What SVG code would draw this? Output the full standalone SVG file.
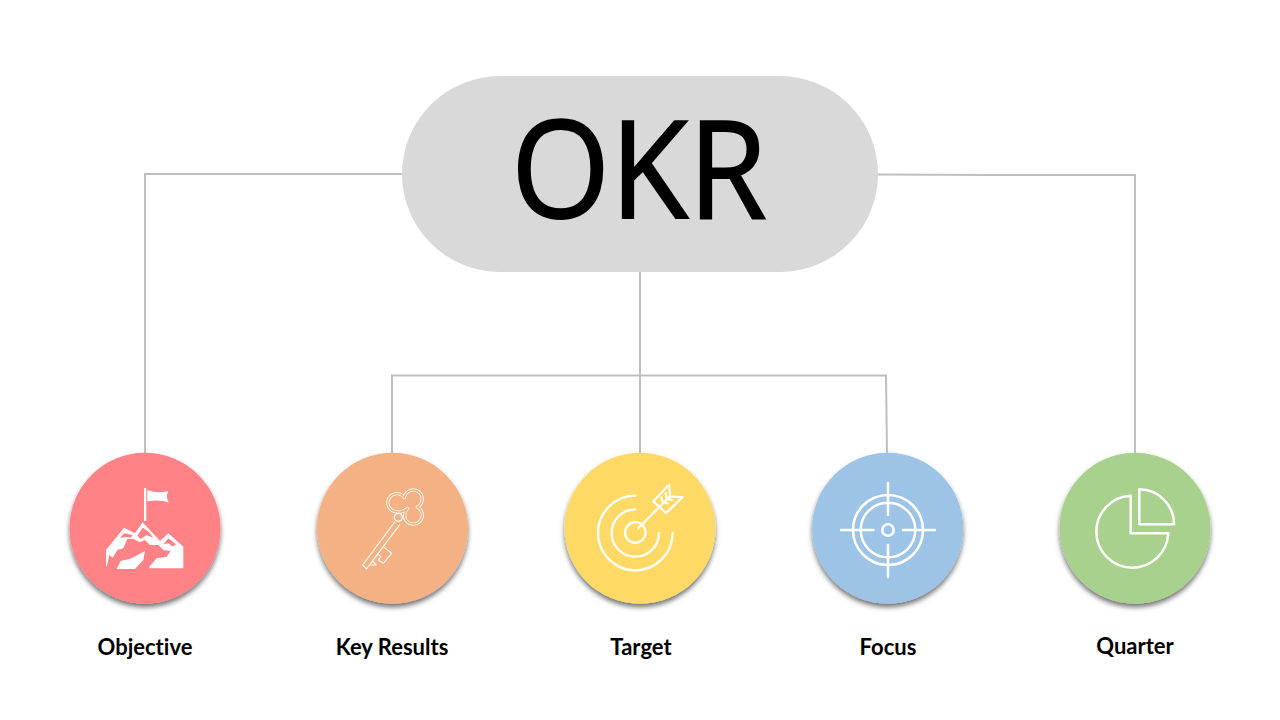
<svg xmlns="http://www.w3.org/2000/svg" width="1280" height="720" viewBox="0 0 1280 720">
<style>
.conn{fill:none;stroke:#BFBFBF;stroke-width:2}
.lbl{font-family:"Lato","Open Sans",sans-serif;font-weight:700;font-size:22px;fill:#000;text-anchor:middle;font-variant-ligatures:none}
.ic{fill:none;stroke:#fff;stroke-linecap:round;stroke-linejoin:round}
.disc{filter:url(#sh)}
</style>
<defs>
<filter id="sh" x="-20%" y="-20%" width="140%" height="140%"><feDropShadow dx="0" dy="3.500" stdDeviation="2.500" flood-color="#000" flood-opacity="0.55"/></filter>
</defs>
<rect width="1280" height="720" fill="#fff"/>
<g id="connectors">
<path class="conn" d="M402 174H145V453"/>
<path class="conn" d="M878 174.500L990 175H1135V453"/>
<path class="conn" d="M640 272V453"/>
<path class="conn" d="M392 453V375.500H886L887 453"/>
</g>
<g id="okr">
<rect x="402" y="76" width="476" height="196" rx="98" fill="#D9D9D9"/>
<text x="511" y="217.500" font-family="'Open Sans',sans-serif" font-size="135" fill="#000" stroke="#000" stroke-width="1.800" textLength="256" lengthAdjust="spacingAndGlyphs">OKR</text>
</g>
<g id="objective">
<circle class="disc" cx="145" cy="528.300" r="75.500" fill="#FF8286"/>
<rect x="144" y="488" width="2.300" height="33" fill="#fff"/>
<path d="M147.300 490Q158 494 168.500 491Q165 497 169 502.500Q158 499 147.300 501.500Z" fill="#fff"/>
<g transform="translate(100 515) scale(.3333)">
<path d="M18 150V105L72 38L105 55L128 22L180 78L205 55L250 95V160H50L20 155Z" fill="#fff"/>
<path d="M18 165L28 120L38 128L52 105L70 100L82 72L102 72L118 82L135 75L150 90L175 90L190 105L212 108L200 125L170 130L148 155V165Z" fill="#FF8286"/>
<path d="M50 162L62 138L95 130L135 108L130 135L105 162Z" fill="#fff"/>
<path d="M72 55L60 68L78 66L92 68L98 60Z M128 38L112 62L122 72L140 60L160 68L146 50Z M205 70L190 88L205 85L218 95L228 88Z" fill="#FF8286"/>
</g>
<text class="lbl" x="145" y="655">Objective</text>
</g>
<g id="key-results">
<circle class="disc" cx="392.500" cy="528.300" r="75.500" fill="#F4B183"/>
<g transform="translate(355 485) scale(.3333)" fill="none" stroke-linejoin="round">
<path d="M125 80A27 27 0 1 1 148 38A27 27 0 1 1 187 66A27 27 0 1 1 150 100Q146 85 158 70Q140 85 125 80Z" stroke="#fff" stroke-width="10" stroke-opacity=".9"/>
<path d="M125 80A27 27 0 1 1 148 38A27 27 0 1 1 187 66A27 27 0 1 1 150 100Q146 85 158 70Q140 85 125 80Z" stroke="#F4B183" stroke-width="4.500"/>
<circle cx="130" cy="97" r="12" fill="#F4B183" stroke="#fff" stroke-width="4"/>
<path d="M120 110L23 240L35 252L62 215L85 185L110 205L85 235L70 225L78 215L68 208L52 228L64 240L47 240M135 118L62 215" stroke="#fff" stroke-width="3.600" stroke-opacity=".9"/>
</g>
<text class="lbl" x="392" y="655">Key Results</text>
</g>
<g id="target">
<circle class="disc" cx="640" cy="528.300" r="75.500" fill="#FFD966"/>
<g class="ic" stroke-width="2.300">
<path d="M635.300 495.700A37.300 37.300 0 1 0 672.600 533"/>
<path d="M635.300 509.300A23.700 23.700 0 1 0 659 533"/>
<circle cx="635.300" cy="532.500" r="10.300"/>
</g>
<g class="ic" stroke-width="6.500" transform="translate(640 478) scale(.3333)">
<path d="M-5 150L90 55"/>
<path d="M40 70L87 20L90 55L128 58L78 105Z"/>
<path d="M68 72L64 58M68 72L82 76M80 62L77 46M80 62L96 66"/>
</g>
<text class="lbl" x="641" y="655">Target</text>
</g>
<g id="focus">
<circle class="disc" cx="887.700" cy="528.300" r="75.500" fill="#9DC3E6"/>
<g class="ic" stroke-width="2.500">
<circle cx="888" cy="530" r="35"/>
<circle cx="888" cy="530" r="27.300"/>
<circle cx="888" cy="530" r="5.700"/>
<path d="M888 483V515M888 545V577M841 530H873.500M903 530H935"/>
</g>
<text class="lbl" x="888" y="655">Focus</text>
</g>
<g id="quarter">
<circle class="disc" cx="1135" cy="528.300" r="75.500" fill="#A9D18E"/>
<g class="ic" stroke-width="2.500">
<path d="M1130.700 495.700A36 36 0 1 0 1168.300 533.300H1130.700Z"/>
<path d="M1139.300 489.300A35 35 0 0 1 1174 524.300H1139.300Z"/>
</g>
<text class="lbl" x="1135" y="654">Quarter</text>
</g>
</svg>
